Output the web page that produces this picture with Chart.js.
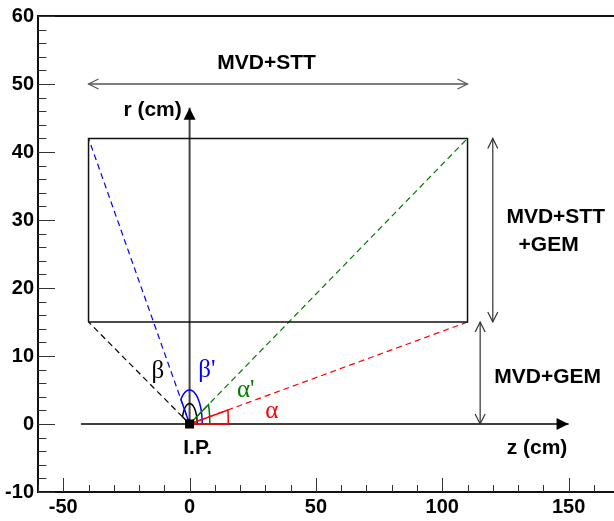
<!DOCTYPE html>
<html>
<head>
<meta charset="utf-8">
<script src="https://cdn.jsdelivr.net/npm/chart.js@4.4.1/dist/chart.umd.min.js"></script>
<style>
  html, body { margin: 0; padding: 0; background: #fff; overflow: hidden; }
  #wrap { width: 614px; height: 521px; }
</style>
</head>
<body>
<div id="wrap"><canvas id="layout"></canvas></div>
<script>
// axis ranges and labelled ticks (z in cm, r in cm)
const zRange = [-60, 165.6];
const rRange = [-10, 60];
const zTicks = [-50, 0, 50, 100, 150];
const rTicks = [-10, 0, 10, 20, 30, 40, 50, 60];

// detector box and interaction point
const boxZ = [-40, 110];
const boxR = [15, 42];
const ipZ = [0];
const ipR = [0];

// rays from the I.P. to the box corners
const rayEndZ = [-40, -40, 110, 110];
const rayEndR = [15, 42, 42, 15];
const rayNames = ['β', "β'", "α'", 'α'];
const arcRadius = [3, 5, 8, 15.3];

// coordinate axes drawn inside the frame
const zAxisZ = [-43, 150];
const rAxisR = [0, 46.5];

// region arrows
const sttArrowZ = [-40, 110];
const sttArrowR = [50, 50];
const sttGemArrowZ = [120, 120];
const sttGemArrowR = [15, 42];
const gemArrowZ = [115, 115];
const gemArrowR = [0, 15];

const rayColors = ['#000000', '#0000ff', '#007a00', '#ff0000'];

const pts = (zs, rs) => zs.map((z, i) => ({ x: z, y: rs[i] }));

const datasets = [
   {
      data: pts([boxZ[0], boxZ[0], boxZ[1], boxZ[1], boxZ[0]], [boxR[0], boxR[1], boxR[1], boxR[0], boxR[0]]),
      borderColor: '#111', borderWidth: 1.5
   },
   ...rayEndZ.map((z, i) => ({
      data: pts([0, z], [0, rayEndR[i]]),
      borderColor: rayColors[i], borderWidth: 1.2, borderDash: [6, 4]
   })),
   { data: pts(zAxisZ, [0, 0]), borderColor: '#000', borderWidth: 1.5, arrow: 'filled' },
   { data: pts([0, 0], rAxisR), borderColor: '#444', borderWidth: 2, arrow: 'filled' },
   { data: pts(sttArrowZ, sttArrowR), borderColor: '#555', borderWidth: 1.5, arrow: 'open' },
   { data: pts(sttGemArrowZ, sttGemArrowR), borderColor: '#333', borderWidth: 1.2, arrow: 'open' },
   { data: pts(gemArrowZ, gemArrowR), borderColor: '#333', borderWidth: 1.2, arrow: 'open' },
   {
      data: pts(ipZ, ipR), showLine: false, pointStyle: 'rect',
      pointRadius: 5, backgroundColor: '#000', borderColor: '#000'
   }
]

function head(ctx, a, b, len, half, filled) {
   const ang = Math.atan2(b.y - a.y, b.x - a.x)
   const ux = Math.cos(ang), uy = Math.sin(ang)
   const bx = b.x - len * ux, by = b.y - len * uy
   ctx.beginPath()
   ctx.moveTo(bx - half * uy, by + half * ux)
   ctx.lineTo(b.x, b.y)
   ctx.lineTo(bx + half * uy, by - half * ux)
   if (filled) { ctx.closePath(); ctx.fill() } else ctx.stroke()
}

const sketch = {
   id: 'sketch',
   afterDatasetsDraw(chart) {
      const { ctx, chartArea: ca, scales: { x, y } } = chart
      ctx.save()

      // frame with inward ticks
      ctx.strokeStyle = '#111'
      ctx.lineWidth = 2
      ctx.beginPath()
      ctx.moveTo(chart.width, ca.top)
      ctx.lineTo(ca.left, ca.top)
      ctx.lineTo(ca.left, ca.bottom)
      ctx.lineTo(chart.width, ca.bottom)
      ctx.stroke()

      ctx.lineWidth = 1
      ctx.strokeStyle = '#333'
      ctx.beginPath()
      for (let v = rRange[0]; v <= rRange[1]; v += 2) {
         const py = Math.round(y.getPixelForValue(v)) + 0.5
         const len = v % 10 === 0 ? 17 : 8.5
         ctx.moveTo(ca.left, py); ctx.lineTo(ca.left + len, py)
      }
      for (let v = zRange[0]; v <= zRange[1]; v += 10) {
         const pxl = Math.round(x.getPixelForValue(v)) + 0.5
         const len = v % 50 === 0 ? 14 : 7
         ctx.moveTo(pxl, ca.bottom); ctx.lineTo(pxl, ca.bottom - len)
      }
      ctx.stroke()

      // arrow heads
      chart.data.datasets.forEach((ds, i) => {
         if (!ds.arrow) return
         const meta = chart.getDatasetMeta(i).data
         const a = meta[0], b = meta[meta.length - 1]
         ctx.strokeStyle = ds.borderColor
         ctx.fillStyle = '#000'
         ctx.lineWidth = 1.2
         if (ds.arrow === 'filled') {
            head(ctx, a, b, 12, 6, true)
         } else {
            head(ctx, a, b, 10, 5, false)
            head(ctx, b, a, 10, 5, false)
         }
      })

      // angle marks: slices from the z axis up to each ray
      rayEndZ.forEach((z, i) => {
         const end = Math.atan2(rayEndR[i], z)
         const R = arcRadius[i]
         ctx.strokeStyle = rayColors[i]
         ctx.lineWidth = 1.5
         ctx.beginPath()
         ctx.moveTo(x.getPixelForValue(0), y.getPixelForValue(0))
         for (let k = 0; k <= 40; k++) {
            const t = end * k / 40
            ctx.lineTo(x.getPixelForValue(R * Math.cos(t)), y.getPixelForValue(R * Math.sin(t)))
         }
         ctx.closePath()
         ctx.stroke()
      })

      // I.P. marker on top of the angle marks
      const ip = chart.getDatasetMeta(chart.data.datasets.length - 1).data[0]
      ctx.fillStyle = '#000'
      ctx.fillRect(ip.x - 4.5, ip.y - 4.5, 9, 9)

      // text
      const text = (s, z, r, font, color, align) => {
         ctx.font = font
         ctx.fillStyle = color
         ctx.textAlign = align || 'center'
         ctx.textBaseline = 'middle'
         ctx.fillText(s, x.getPixelForValue(z), y.getPixelForValue(r))
      }
      const bold = 'bold 21px "Liberation Sans", Arial, sans-serif'
      text('MVD+STT', 30.5, 53.1, bold, '#000')
      text('MVD+STT', 144.9, 30.4, bold, '#000')
      text('+GEM', 142.1, 26.3, bold, '#000')
      text('MVD+GEM', 141.7, 6.85, bold, '#000')
      text('r (cm)', -3.1, 46.1, bold, '#000', 'right')
      text('z (cm)', 137.5, -3.5, bold, '#000')
      text('I.P.', 3.2, -3.5, bold, '#000')

      const greek = '25px "Liberation Serif", "Times New Roman", serif'
      const namePos = [[-12.6, 7.8], [6.8, 7.9], [22.2, 4.9], [32.5, 1.9]]
      rayNames.forEach((s, i) => text(s, namePos[i][0], namePos[i][1], greek, rayColors[i]))

      ctx.restore()
   }
}

new Chart(document.getElementById('layout'), {
   type: 'scatter',
   data: { datasets: datasets.map(d => Object.assign({ showLine: true, pointRadius: 0, fill: false }, d)) },
   options: {
      responsive: true,
      maintainAspectRatio: false,
      animation: false,
      layout: { padding: { top: 15, right: 1, left: 0, bottom: 0 } },
      plugins: { legend: { display: false }, tooltip: { enabled: false } },
      scales: {
         x: {
            type: 'linear', min: zRange[0], max: zRange[1],
            grid: { display: false, drawTicks: false, tickLength: 0 },
            border: { display: false },
            ticks: { color: '#000', padding: 3, font: { family: '"Liberation Sans", Arial, sans-serif', size: 20, weight: 'bold' } },
            afterBuildTicks: s => { s.ticks = zTicks.map(v => ({ value: v })) },
            afterFit: s => { s.height = 29; s.paddingLeft = 0; s.paddingRight = 0 }
         },
         y: {
            type: 'linear', min: rRange[0], max: rRange[1],
            grid: { display: false, drawTicks: false, tickLength: 0 },
            border: { display: false },
            ticks: { color: '#000', padding: 4, font: { family: '"Liberation Sans", Arial, sans-serif', size: 20, weight: 'bold' } },
            afterBuildTicks: s => { s.ticks = rTicks.map(v => ({ value: v })) },
            afterFit: s => { s.width = 38 }
         }
      }
   },
   plugins: [sketch]
})
</script>
</body>
</html>
